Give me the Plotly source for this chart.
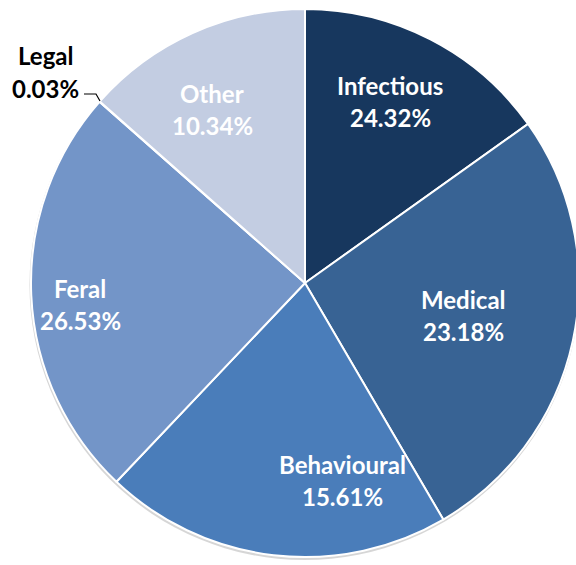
import plotly.graph_objects as go

# Data
categories = ["Infectious", "Medical", "Behavioural", "Feral", "Legal", "Other"]
slice_values = [15.14, 26.44, 20.50, 24.42, 0.03, 13.47]   # slice sizes as drawn
label_pcts = ["24.32%", "23.18%", "15.61%", "26.53%", "0.03%", "10.34%"]  # printed labels

colors = ["#17375E", "#386394", "#4A7DBA", "#7395C8", "#7395C8", "#C3CDE2"]

W, H = 580, 565

# soft shadow disc behind the pie
shadow = go.Pie(
    values=[1],
    sort=False,
    marker=dict(colors=["rgba(0,0,0,0.16)"], line=dict(width=0)),
    textinfo="none",
    hoverinfo="skip",
    showlegend=False,
    domain=dict(x=[29 / W, 1.0], y=[5 / H, 555 / H]),
)

pie = go.Pie(
    labels=categories,
    values=slice_values,
    sort=False,
    direction="clockwise",
    rotation=0,
    marker=dict(colors=colors, line=dict(color="white", width=2)),
    textinfo="none",
    hoverinfo="label+percent",
    showlegend=False,
    domain=dict(x=[31 / W, 579 / W], y=[8 / H, 556 / H]),
)

fig = go.Figure([shadow, pie])

# label placement (pixels) : name line y, pct line y
label_pos = {
    "Infectious": (390, 85, 117, "white"),
    "Medical": (463, 299, 331, "white"),
    "Behavioural": (342, 465, 497, "white"),
    "Feral": (80, 288, 320, "white"),
    "Other": (212, 94, 126, "white"),
    "Legal": (45, 55, 88, "black"),
}

def px(x):
    return x / W

def py(y):
    return 1 - y / H

annotations = []
for cat, pct in zip(categories, label_pcts):
    x, y1, y2, col = label_pos[cat]
    for txt, yy in ((cat, y1), (pct, y2)):
        annotations.append(dict(
            x=px(x), y=py(yy), xref="paper", yref="paper",
            text="<b>%s</b>" % txt, showarrow=False,
            xanchor="center", yanchor="middle",
            font=dict(family="Lato, Carlito, Liberation Sans, sans-serif", size=24, color=col),
        ))

# leader line for the Legal label
shapes = [dict(
    type="path", xref="paper", yref="paper",
    path="M %f,%f L %f,%f L %f,%f" % (px(84), py(94), px(96), py(94), px(100), py(101)),
    line=dict(color="black", width=1.2),
)]

fig.update_layout(
    width=W, height=H,
    margin=dict(l=0, r=0, t=0, b=0),
    paper_bgcolor="white",
    plot_bgcolor="white",
    annotations=annotations,
    shapes=shapes,
)

fig.write_html(
    "out.html",
    config={"displayModeBar": False},
    post_script="document.body.style.margin='0';document.body.style.overflow='hidden';"
                "document.documentElement.style.overflow='hidden';",
)
